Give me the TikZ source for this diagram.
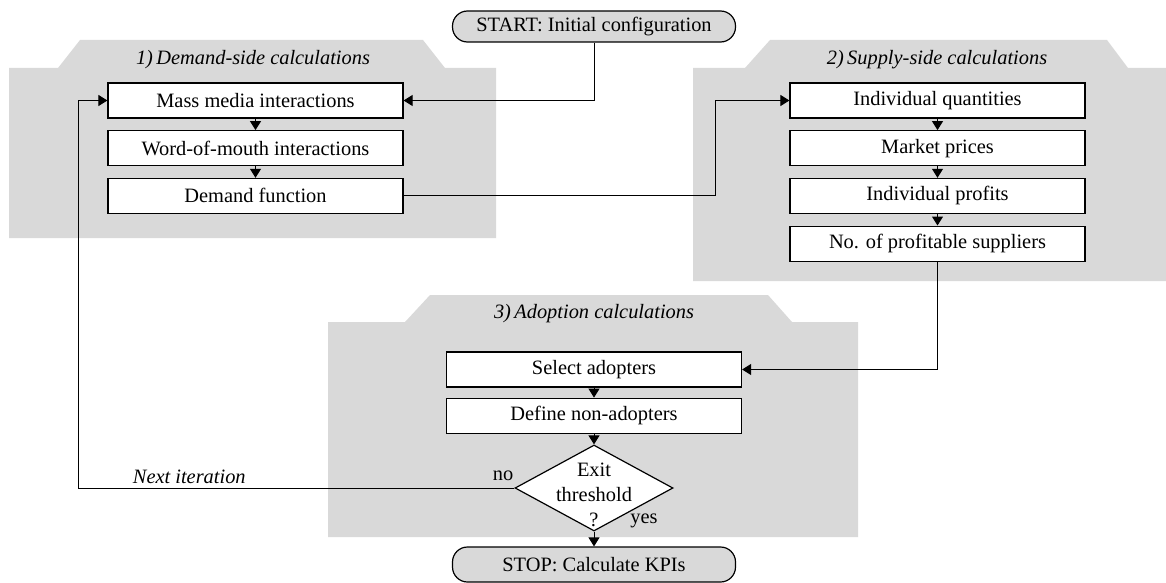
\documentclass[tikz,border=0pt]{standalone}
\usepackage{fontspec}
\setmainfont{Liberation Serif}
\usepackage{tikz}
\usetikzlibrary{positioning, shapes.geometric, arrows.meta}
\definecolor{panelgray}{HTML}{D9D9D9}
\tikzset{
	stepbox/.style={
		draw,
		line width=0.6pt,
		fill=white,
		rectangle,
		inner sep=0pt,
		minimum width=147.5pt,
		minimum height=17.5pt
	},
	terminal/.style={
		draw,
		line width=0.6pt,
		fill=panelgray,
		rectangle,
		rounded corners=7.5pt,
		inner sep=0pt,
		minimum width=141.5pt
	},
	decision/.style={
		draw,
		line width=0.6pt,
		fill=white,
		diamond,
		inner sep=0pt,
		minimum width=79pt,
		minimum height=43pt
	},
	paneltitle/.style={
		font=\itshape
	}
}

\begin{document}
\fontsize{10.2}{12.5}\selectfont
\begin{tikzpicture}[x=0.5pt, y=-0.5pt, node distance=5.75pt]
	\useasboundingbox (0,0) rectangle (1166,583);

	% grey panels
	\fill[panelgray] (9,68) -- (58,68) -- (80,40) -- (423,40) -- (445,68) -- (496,68) -- (496,238) -- (9,238) -- cycle;
	\fill[panelgray] (693,68) -- (745,68) -- (770,40) -- (1107,40) -- (1128,68) -- (1166,68) -- (1166,281) -- (693,281) -- cycle;
	\fill[panelgray] (328,322) -- (405,322) -- (430,295) -- (768,295) -- (792,322) -- (858,322) -- (858,537) -- (328,537) -- cycle;

	% panel titles
	\node[paneltitle] (demandtitle) at (253,60) {1)\,Demand-side calculations};
	\node[paneltitle] (supplytitle) at (937,60) {2)\,Supply-side calculations};
	\node[paneltitle] (adopttitle) at (594,314) {3)\,Adoption calculations};

	% start / stop
	\node[terminal, minimum height=15.5pt] (start) at (594,26.5) {START: Initial configuration};
	\node[terminal, minimum height=17.5pt] (stop) at (594,564.5) {STOP: Calculate KPIs};

	% demand side
	\node[stepbox] (massmedia) at (255.5,100.5) {Mass media interactions};
	\node[stepbox, below=of massmedia] (wom) {Word-of-mouth interactions};
	\node[stepbox, below=of wom] (demand) {Demand function};

	% supply side
	\node[stepbox] (quant) at (937.5,100.5) {Individual quantities};
	\node[stepbox, below=of quant] (prices) {Market prices};
	\node[stepbox, below=of prices] (profits) {Individual profits};
	\node[stepbox, below=of profits] (suppliers) {No. of profitable suppliers};

	% adoption
	\node[stepbox] (select) at (594,369.5) {Select adopters};
	\node[stepbox, below=5pt of select] (define) {Define non-adopters};
	\node[decision] (exit) at (594,488) {};
	\node[align=center, inner sep=0pt] (exittext) at (594,495) {Exit\\threshold\\?};
	\node (no) at (503,476) {no};
	\node (yes) at (644,521) {yes};

	\coordinate (bend) at (715,0);
	\coordinate (loop) at (78,0);

	% connections
	\begin{scope}[line width=0.5pt, ->, >={Triangle[length=4.5pt,width=5.5pt]}]
	\foreach \from/\to in {massmedia/wom, wom/demand, quant/prices, prices/profits, profits/suppliers, select/define} {
		\draw (\from.south) -- (\to.north);
	}
	\draw (define.south) -- (exit.north);
	\draw (exit.south) -- (stop.north);

	\draw (start.south) |- (massmedia.east);
	\draw (demand.east) -- (demand.east -| bend) |- (quant.west);
	\draw (suppliers.south) |- (select.east);
	\draw (exit.west) -- node[pos=0.745, above, font=\itshape, inner sep=2pt] {Next iteration} (exit.west -| loop) |- (massmedia.west);
	\end{scope}
\end{tikzpicture}
\end{document}
